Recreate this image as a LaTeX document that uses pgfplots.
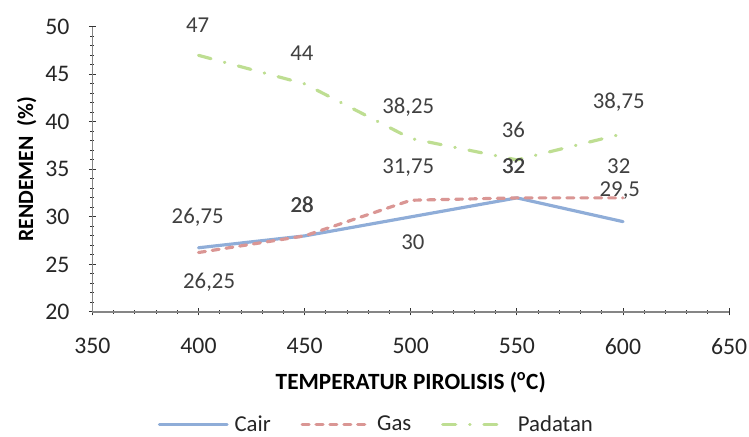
\documentclass[border=0pt]{standalone}
\usepackage{pgfplots}
\pgfplotsset{compat=1.18}
\usepackage{fontspec}
\setmainfont{Carlito}

\definecolor{cair}{RGB}{143,173,216}
\definecolor{gas}{RGB}{218,150,148}
\definecolor{padatan}{RGB}{190,222,146}
\definecolor{txt}{RGB}{64,64,64}
\definecolor{axisgray}{RGB}{134,134,134}

\begin{document}
\begin{tikzpicture}
\path[use as bounding box] (-93bp,-125bp) rectangle (661bp,314bp);
\begin{axis}[
    scale only axis,
    width=641bp,
    height=287bp,
    xmin=350, xmax=650,
    ymin=20, ymax=50,
    xtick={350,400,...,650},
    ytick={20,25,...,50},
    minor x tick num=4,
    minor y tick num=4,
    axis x line=bottom,
    axis y line=left,
    axis line style={-, axisgray, line width=1.2bp},
    major tick length=7bp,
    minor tick length=4bp,
    tick style={black!80, line width=0.9bp},
    /pgf/number format/assume math mode=true,
    ticklabel style={font=\fontsize{24}{28}\selectfont, text=black!85},
    xticklabel style={anchor=center, yshift=-31bp},
    yticklabel style={anchor=east, xshift=-16bp},
    xlabel={\textbf{TEMPERATUR PIROLISIS (\textsuperscript{o}C)}},
    ylabel={\textbf{RENDEMEN\ \ (\%)}},
    xlabel style={at={(axis description cs:0.5,-0.247)}, anchor=center, font=\fontsize{23.5}{27}\selectfont},
    ylabel style={at={(axis description cs:-0.103,0.5)}, anchor=center, font=\fontsize{22}{26}\selectfont},
    legend columns=3,
    legend style={at={(axis description cs:0.446,-0.394)}, anchor=center, draw=none,
        font=\fontsize{23}{27}\selectfont, text=black!85,
        /tikz/every odd column/.append style={column sep=4bp},
        /tikz/every even column/.append style={column sep=28bp}},
    legend image code/.code={\draw[#1] (0bp,0bp) -- (68bp,0bp);},
    clip=false,
]
\addplot[cair, line width=3.2bp, line cap=round] coordinates {
    (400,26.75) (450,28) (500,30) (550,32) (600,29.5)
};
\addlegendentry{Cair}
\addplot[gas, line width=3.2bp, line cap=round, dash pattern=on 7bp off 7bp] coordinates {
    (400,26.25) (450,28) (500,31.75) (550,32) (600,32)
};
\addlegendentry{Gas}
\addplot[padatan, line width=3.2bp, line cap=round, dash pattern=on 13bp off 14bp on 0.5bp off 14bp] coordinates {
    (400,47) (450,44) (500,38.25) (550,36) (600,38.75)
};
\addlegendentry{Padatan}

\begin{scope}[every node/.style={font=\fontsize{23}{27}\selectfont, text=txt, inner sep=0pt}]
\node at (axis cs:399.6,50.2) {47};
\node at (axis cs:448.7,47.2) {44};
\node at (axis cs:498.8,41.5) {38,25};
\node at (axis cs:548.4,39.2) {36};
\node at (axis cs:598,42.05) {38,75};
\node at (axis cs:498.8,35.16) {31,75};
\node at (axis cs:548.4,35.37) {32};
\node at (axis cs:548.6,35.37) {32};
\node at (axis cs:598,35.37) {32};
\node at (axis cs:598.5,32.75) {29,5};
\node at (axis cs:501,27.3) {30};
\node at (axis cs:448.7,31.3) {28};
\node at (axis cs:448.9,31.3) {28};
\node at (axis cs:399.6,30.0) {26,75};
\node at (axis cs:405,23.1) {26,25};
\end{scope}
\end{axis}
\end{tikzpicture}
\end{document}
